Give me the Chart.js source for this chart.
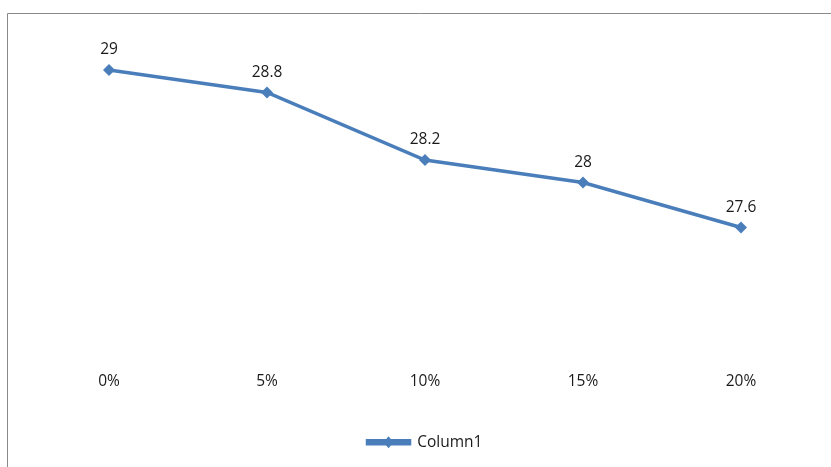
<!DOCTYPE html>
<html>
<head>
<meta charset="utf-8">
<script src="https://cdn.jsdelivr.net/npm/chart.js@4.4.1/dist/chart.umd.min.js"></script>
<style>
  html, body { margin: 0; padding: 0; background: #fff; }
  #wrap { width: 831px; height: 467px; position: relative; }
</style>
</head>
<body>
<div id="wrap"><canvas id="c"></canvas></div>
<script>
// values
var categories = ['0%', '5%', '10%', '15%', '20%'];
var column1 = [29, 28.8, 28.2, 28, 27.6];
var seriesName = 'Column1';

var BLUE = '#4a7ebb';
var FONT = '"Open Sans", "Noto Sans", sans-serif';

// Excel-like chart frame: only the top and left edges are inside the picture
var framePlugin = {
  id: 'frame',
  beforeDraw: function (chart) {
    var ctx = chart.ctx;
    ctx.save();
    ctx.strokeStyle = '#8a8a8a';
    ctx.lineWidth = 1;
    ctx.beginPath();
    ctx.moveTo(7.5, chart.height);
    ctx.lineTo(7.5, 13.5);
    ctx.lineTo(chart.width, 13.5);
    ctx.stroke();
    ctx.restore();
  }
};

// value labels above each point
var labelPlugin = {
  id: 'pointLabels',
  afterDatasetsDraw: function (chart) {
    var ctx = chart.ctx;
    var meta = chart.getDatasetMeta(0);
    ctx.save();
    ctx.font = '15.5px ' + FONT;
    ctx.fillStyle = '#1a1a1a';
    ctx.textAlign = 'center';
    ctx.textBaseline = 'middle';
    meta.data.forEach(function (pt, i) {
      ctx.fillText(String(column1[i]), pt.x, pt.y - 20);
    });
    ctx.restore();
  }
};

// diamond in the middle of the legend line
var legendMarker = {
  id: 'legendMarker',
  afterDraw: function (chart) {
    var lg = chart.legend;
    if (!lg || !lg.legendHitBoxes) return;
    var ctx = chart.ctx;
    var bw = lg.options.labels.boxWidth;
    lg.legendHitBoxes.forEach(function (hb) {
      var cx = hb.left + bw / 2, cy = hb.top + hb.height / 2;
      ctx.save();
      ctx.fillStyle = BLUE;
      ctx.beginPath();
      ctx.moveTo(cx, cy - 6);
      ctx.lineTo(cx + 5, cy);
      ctx.lineTo(cx, cy + 6);
      ctx.lineTo(cx - 5, cy);
      ctx.closePath();
      ctx.fill();
      ctx.restore();
    });
  }
};

new Chart(document.getElementById('c'), {
  type: 'line',
  data: {
    labels: categories,
    datasets: [{
      label: seriesName,
      data: column1,
      borderColor: BLUE,
      backgroundColor: BLUE,
      borderWidth: 3.5,
      tension: 0,
      pointStyle: 'rectRot',
      pointRadius: 6,
      pointBackgroundColor: BLUE,
      pointBorderColor: BLUE,
      pointBorderWidth: 0
    }]
  },
  options: {
    responsive: true,
    maintainAspectRatio: false,
    animation: false,
    layout: { padding: { left: 30, right: 11, top: 25, bottom: 7 } },
    plugins: {
      legend: {
        position: 'bottom',
        labels: {
          boxWidth: 42, boxHeight: 3, padding: 10,
          color: '#1a1a1a', font: { family: FONT, size: 15.5 }
        }
      },
      tooltip: { enabled: false },
      title: { display: false }
    },
    scales: {
      x: {
        offset: true,
        grid: { display: false, drawTicks: false },
        border: { display: false },
        ticks: { color: '#1a1a1a', font: { family: FONT, size: 15.5 }, padding: 10 },
        afterFit: function (s) { s.height = 62; }
      },
      y: {
        display: false,
        min: 26.4,
        max: 29.4
      }
    }
  },
  plugins: [framePlugin, labelPlugin, legendMarker]
});
</script>
</body>
</html>
